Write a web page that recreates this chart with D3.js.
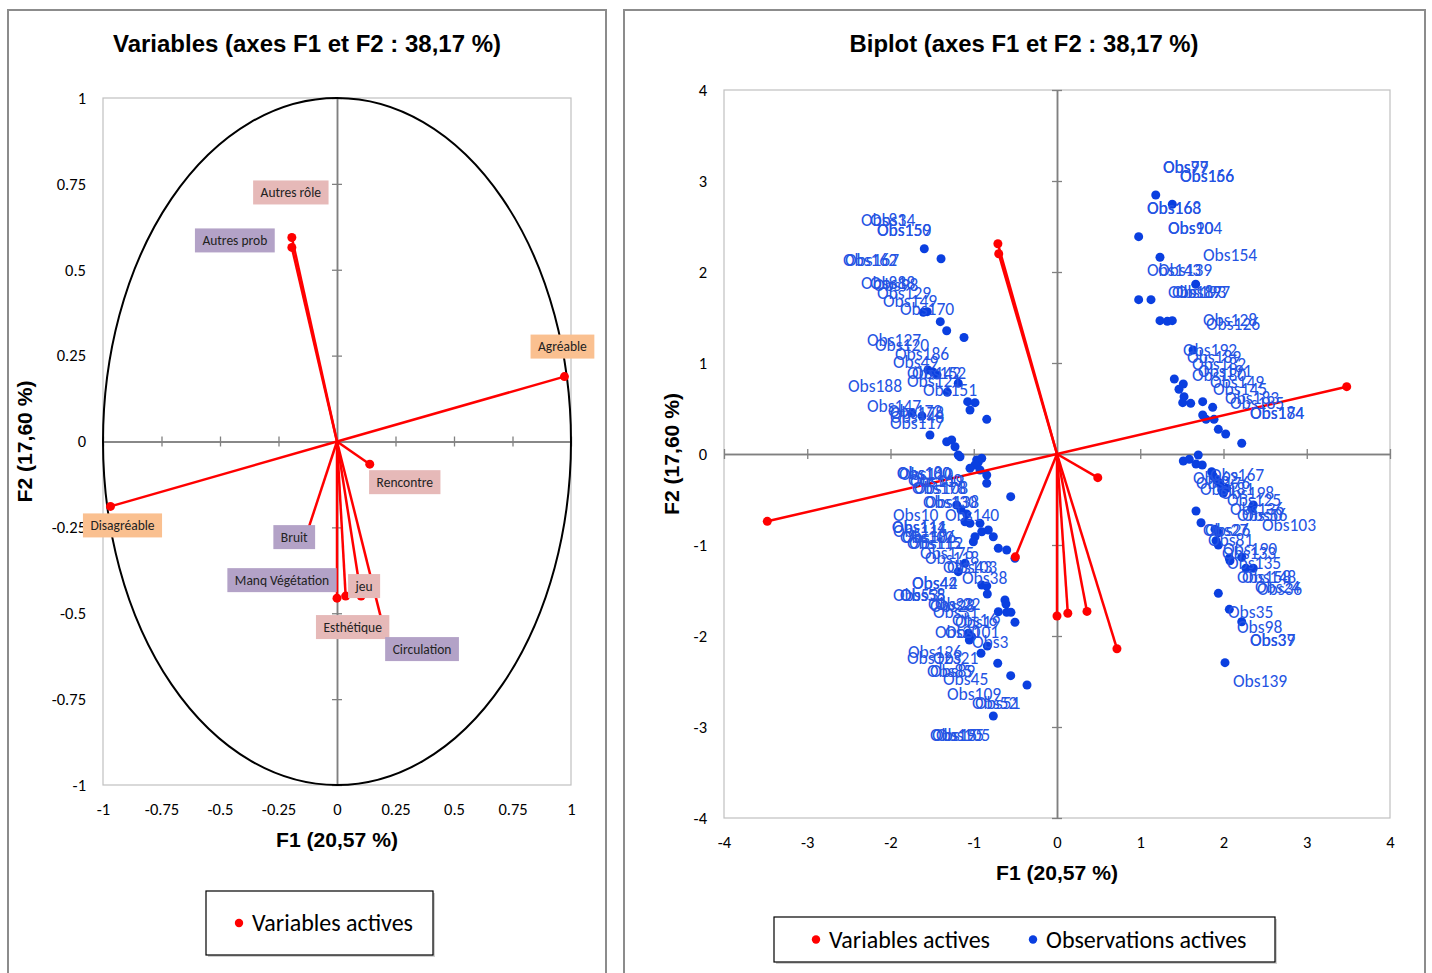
<!DOCTYPE html>
<html><head><meta charset="utf-8">
<script src="https://cdn.jsdelivr.net/npm/d3@7"></script>
<style>body{margin:0;background:#fff} svg{display:block}</style>
</head><body><svg id="c" width="1432" height="973"></svg>
<script>
// ---------- DATA ----------
const varNames = ["Agréable","Disagréable","Autres rôle","Autres prob","Rencontre","Bruit","Manq Végétation","Esthétique","jeu","Circulation"];
const varType  = ["valence","valence","usage","probleme","usage","probleme","probleme","usage","usage","probleme"];
// correlation circle coordinates
const varF1 = [0.972,-0.968,-0.193,-0.193,0.140,-0.140,0.000,0.037,0.103,0.201];
const varF2 = [0.189,-0.189,0.594,0.565,-0.066,-0.290,-0.456,-0.450,-0.450,-0.549];
// biplot coordinates of the variables
const biF1 = [3.48,-3.48,-0.71,-0.70,0.49,-0.50,0.00,0.13,0.36,0.72];
const biF2 = [0.74,-0.74,2.31,2.20,-0.26,-1.13,-1.78,-1.75,-1.73,-2.14];

const obsF1 = [
 1.186,1.385,0.981,1.237,1.666,0.981,1.129,1.237,1.325,1.385,
 1.634,1.409,1.517,1.465,1.526,1.510,1.606,1.750,1.870,1.750,1.790,1.886,1.938,2.026,2.219,
 1.517,1.589,1.697,1.670,1.745,1.858,1.877,1.918,1.958,1.978,1.998,2.038,2.358,2.339,1.670,1.730,1.898,1.938,1.910,1.938,2.070,2.078,2.219,2.270,2.358,1.938,2.070,2.219,2.018,
 -1.594,-1.393,-1.606,-1.558,-1.402,-1.325,-1.117,-1.550,-1.489,-1.441,-1.186,-1.318,-1.073,-0.985,-1.045,-0.844,-1.742,-1.622,-1.526,-1.325,-1.265,-1.225,-1.186,-1.165,-0.965,-0.904,-0.945,-0.985,-1.045,-0.925,-0.844,-0.844,-0.556,-1.205,-1.153,-1.085,-1.105,-1.045,-0.925,-0.904,-0.825,-0.985,-0.765,-1.005,-0.705,-0.604,-0.505,-1.105,-1.186,-0.904,-0.844,-0.837,-0.625,-0.613,-0.705,-0.604,-0.553,-0.505,-1.065,-1.025,-1.053,-0.837,-0.913,-0.712,-0.556,-0.360,-0.765];
const obsF2 = [
 2.846,2.744,2.388,2.162,1.865,1.696,1.696,1.465,1.458,1.465,
 1.143,0.824,0.769,0.711,0.630,0.564,0.557,0.575,0.513,0.429,0.381,0.381,0.271,0.220,0.118,
 -0.077,-0.058,-0.011,-0.110,-0.121,-0.195,-0.242,-0.286,-0.322,-0.396,-0.432,-0.377,-0.560,-0.597,-0.626,-0.755,-0.827,-0.865,-0.953,-1.000,-1.146,-1.173,-1.135,-1.256,-1.256,-1.531,-1.707,-1.843,-2.293,
 2.256,2.146,1.557,1.564,1.454,1.355,1.280,0.923,0.901,0.868,0.777,0.678,0.575,0.564,0.484,0.381,0.451,0.418,0.209,0.135,0.154,0.080,-0.011,-0.030,-0.066,-0.047,-0.088,-0.121,-0.157,-0.176,-0.231,-0.322,-0.469,-0.560,-0.615,-0.659,-0.744,-0.762,-0.762,-0.854,-0.835,-0.909,-0.909,-0.964,-1.036,-1.055,-1.146,-1.201,-1.293,-1.440,-1.451,-1.538,-1.604,-1.648,-1.733,-1.740,-1.740,-1.849,-1.970,-2.008,-2.044,-2.110,-2.190,-2.300,-2.436,-2.538,-2.879];

// observation labels (text start, in F1/F2 units)
const obsLabelText = ["Obs77","Obs99","Obs156","Obs166","Obs168","Obs163","Obs90","Obs104","Obs154","Obs143","Obs139","Obs187","Obs193","Obs197","Obs128","Obs126",
 "Obs192","Obs189","Obs182","Obs191","Obs180","Obs149","Obs145","Obs183","Obs185","Obs174","Obs184",
 "Obs62","Obs167","Obs176","Obs181","Obs198","Obs125","Obs136","Obs50","Obs56","Obs103","Obs27","Obs26","Obs81","Obs190","Obs133","Obs135","Obs158","Obs148","Obs24","Obs36","Obs35","Obs98","Obs37","Obs39","Obs139",
 "Obs81","Obs34","Obs159","Obs150","Obs162","Obs167","Obs88","Obs18","Obs98","Obs129","Obs149","Obs170","Obs127","Obs120","Obs186","Obs49","Obs142","Obs152","Obs121","Obs188","Obs151","Obs147","Obs172","Obs178","Obs148","Obs117",
 "Obs180","Obs100","Obs110","Obs160","Obs119","Obs178","Obs108","Obs130","Obs138","Obs10","Obs140","Obs111","Obs114","Obs116","Obs102","Obs106","Obs115","Obs112","Obs175","Obs118","Obs103","Obs43","Obs38","Obs44","Obs42","Obs53","Obs58","Obs55",
 "Obs23","Obs22","Obs28","Obs31","Obs16","Obs19","Obs20","Obs101","Obs3","Obs126","Obs123","Obs21","Obs85","Obs89","Obs45","Obs109","Obs52","Obs51","Obs195","Obs15","Obs105"];
const obsLabelF1 = [1.273,1.273,1.477,1.477,1.081,1.081,1.333,1.333,1.754,1.081,1.213,1.333,1.381,1.429,1.754,1.790,
 1.514,1.562,1.622,1.694,1.622,1.838,1.874,2.018,2.078,2.318,2.318,
 1.634,1.838,1.670,1.718,1.958,2.042,2.078,2.162,2.222,2.462,1.754,1.778,1.814,1.994,1.982,2.042,2.162,2.222,2.378,2.402,2.054,2.162,2.318,2.318,2.114,
 -2.354,-2.246,-2.162,-2.162,-2.571,-2.547,-2.354,-2.246,-2.210,-2.162,-2.090,-1.886,-2.282,-2.186,-1.946,-1.970,-1.802,-1.742,-1.802,-2.511,-1.610,-2.282,-2.030,-2.006,-2.006,-2.006,
 -1.922,-1.922,-1.898,-1.790,-1.766,-1.742,-1.718,-1.610,-1.586,-1.970,-1.345,-1.982,-1.982,-1.970,-1.886,-1.862,-1.802,-1.778,-1.646,-1.586,-1.369,-1.321,-1.141,-1.742,-1.742,-1.970,-1.886,-1.886,
 -1.550,-1.465,-1.526,-1.489,-1.261,-1.225,-1.465,-1.345,-1.021,-1.790,-1.802,-1.489,-1.562,-1.526,-1.369,-1.321,-1.021,-0.985,-1.526,-1.502,-1.453];
const obsLabelF2 = [3.154,3.154,3.055,3.055,2.703,2.703,2.484,2.484,2.187,2.022,2.022,1.780,1.780,1.780,1.473,1.429,
 1.143,1.066,0.989,0.912,0.868,0.791,0.714,0.615,0.560,0.451,0.451,
 -0.264,-0.231,-0.319,-0.385,-0.429,-0.505,-0.604,-0.670,-0.670,-0.780,-0.835,-0.835,-0.945,-1.044,-1.088,-1.198,-1.352,-1.352,-1.462,-1.484,-1.736,-1.901,-2.044,-2.044,-2.495,
 2.571,2.571,2.462,2.462,2.132,2.132,1.879,1.879,1.857,1.769,1.681,1.593,1.253,1.198,1.099,1.011,0.890,0.890,0.802,0.747,0.703,0.527,0.473,0.451,0.407,0.341,
 -0.209,-0.209,-0.220,-0.286,-0.297,-0.374,-0.374,-0.527,-0.527,-0.670,-0.670,-0.802,-0.802,-0.846,-0.912,-0.912,-0.978,-0.978,-1.088,-1.143,-1.242,-1.242,-1.363,-1.418,-1.418,-1.549,-1.549,-1.549,
 -1.648,-1.648,-1.670,-1.736,-1.824,-1.846,-1.956,-1.956,-2.066,-2.176,-2.242,-2.242,-2.385,-2.385,-2.473,-2.637,-2.736,-2.736,-3.088,-3.088,-3.088];

const leftTicks = [-1,-0.75,-0.5,-0.25,0,0.25,0.5,0.75,1];
const rightTicks = [-4,-3,-2,-1,0,1,2,3,4];

// ---------- LAYOUT / STYLE ----------
const svg = d3.select("#c");
const NUM_FONT = "Carlito, Calibri, Lato, sans-serif";
const TITLE_FONT = "'Liberation Sans Narrow', 'Liberation Sans', Arial, sans-serif";
const RED = "#ff0000", BLUE = "#0a3fe0", LBLUE = "#2453e3";
const typeFill = d3.scaleOrdinal().domain(["valence","usage","probleme"]).range(["#fac090","#e6b9b8","#b3a2c7"]);
const varLabelOffset = [[-2,-30],[12,19],[-1,-45],[-57,-7],[35,18],[-10,-4],[-55,-18],[7,31],[3,-10],[38,19]];

// panel frames
svg.append("rect").attr("x",8).attr("y",10).attr("width",598).attr("height",1000)
  .attr("fill","none").attr("stroke","#8c8c8c").attr("stroke-width",2);
svg.append("rect").attr("x",624).attr("y",10).attr("width",801).attr("height",1000)
  .attr("fill","none").attr("stroke","#8c8c8c").attr("stroke-width",2);

function boldText(x, y, size, len, txt, rot) {
  const t = svg.append("text").attr("text-anchor","middle")
    .attr("font-family",TITLE_FONT).attr("font-weight","bold").attr("font-size",size)
    .attr("textLength",len).attr("lengthAdjust","spacingAndGlyphs").text(txt);
  if (rot) t.attr("transform",`translate(${x},${y}) rotate(-90)`);
  else t.attr("x",x).attr("y",y);
  return t;
}

function drawFrame(x, y, ticks, o) {
  const g = svg.append("g");
  const [x0,x1] = x.range(), [y0,y1] = y.range();
  g.append("rect").attr("x",x0).attr("y",y1).attr("width",x1-x0).attr("height",y0-y1)
    .attr("fill","none").attr("stroke","#c0c0c0").attr("stroke-width",1.2);
  const fmt = d => String(d);
  const ax = g.append("g").attr("transform",`translate(0,${o.xLabY})`)
    .call(d3.axisBottom(x).tickValues(ticks).tickSize(0).tickFormat(fmt));
  ax.select(".domain").remove();
  ax.selectAll("text").attr("font-family",NUM_FONT).attr("font-size",16.5).attr("fill","#000").attr("dy","0");
  const ay = g.append("g").attr("transform",`translate(${o.yLabX},0)`)
    .call(d3.axisLeft(y).tickValues(ticks).tickSize(0).tickPadding(0).tickFormat(fmt));
  ay.select(".domain").remove();
  ay.selectAll("text").attr("font-family",NUM_FONT).attr("font-size",16.5).attr("fill","#000");
  const inner = ticks.filter(d => d !== 0);
  [d3.axisBottom, d3.axisTop].forEach(f => {
    const a = g.append("g").attr("transform",`translate(0,${y(0)})`)
      .call(f(x).tickValues(inner).tickSize(5).tickSizeOuter(0).tickFormat(""));
    a.selectAll("line").attr("stroke","#808080").attr("stroke-width",1.3);
    a.select(".domain").attr("stroke","#808080").attr("stroke-width",1.5);
  });
  [d3.axisLeft, d3.axisRight].forEach(f => {
    const a = g.append("g").attr("transform",`translate(${x(0)},0)`)
      .call(f(y).tickValues(inner).tickSize(5).tickSizeOuter(0).tickFormat(""));
    a.selectAll("line").attr("stroke","#808080").attr("stroke-width",1.3);
    a.select(".domain").attr("stroke","#808080").attr("stroke-width",1.5);
  });
  boldText(o.titleX, 52, 23, o.titleLen, o.title);
  boldText(x(0), o.f1Y, 20, 122, "F1 (20,57 %)");
  boldText(o.f2X, y(0), 20, 122, "F2 (17,60 %)", true);
  return g;
}

function legend(x, y, w, h, items) {
  const g = svg.append("g");
  g.append("rect").attr("x",x+2).attr("y",y+2).attr("width",w).attr("height",h).attr("fill","#d0d0d0");
  g.append("rect").attr("x",x).attr("y",y).attr("width",w).attr("height",h).attr("fill","#fff").attr("stroke","#000").attr("stroke-width",1.2);
  items.forEach(it => {
    g.append("circle").attr("cx",it.cx).attr("cy",y+h/2).attr("r",4.2).attr("fill",it.color);
    g.append("text").attr("x",it.cx+13).attr("y",y+h/2+8).attr("font-family",NUM_FONT).attr("font-size",24).text(it.text);
  });
}

// ---------- LEFT : correlation circle ----------
const xL = d3.scaleLinear([-1,1],[103,571]);
const yL = d3.scaleLinear([-1,1],[785,98]);
const gL = drawFrame(xL, yL, leftTicks, {xLabY:812, yLabX:86, titleX:307, titleLen:388, title:"Variables (axes F1 et F2 : 38,17 %)", f1Y:847, f2X:32});
gL.append("ellipse").attr("cx",xL(0)).attr("cy",yL(0)).attr("rx",xL(1)-xL(0)).attr("ry",yL(0)-yL(1))
  .attr("fill","none").attr("stroke","#000").attr("stroke-width",2);
const vIdx = d3.range(varNames.length);
gL.selectAll("line.v").data(vIdx).join("line").attr("class","v")
  .attr("x1",xL(0)).attr("y1",yL(0)).attr("x2",i=>xL(varF1[i])).attr("y2",i=>yL(varF2[i]))
  .attr("stroke",RED).attr("stroke-width",2.5);
gL.selectAll("circle.v").data(vIdx).join("circle").attr("class","v")
  .attr("cx",i=>xL(varF1[i])).attr("cy",i=>yL(varF2[i])).attr("r",4.5).attr("fill",RED);
vIdx.forEach(i => {
  const cx = xL(varF1[i]) + varLabelOffset[i][0], cy = yL(varF2[i]) + varLabelOffset[i][1];
  const lg = gL.append("g");
  const r = lg.append("rect").attr("fill",typeFill(varType[i]));
  const t = lg.append("text").attr("x",cx).attr("y",cy+4.5).attr("text-anchor","middle")
    .attr("font-family",NUM_FONT).attr("font-size",13.5).attr("fill","#222").text(varNames[i]);
  const w = t.node().getComputedTextLength() + 15;
  r.attr("x",cx-w/2).attr("y",cy-12).attr("width",w).attr("height",24);
});
legend(206, 891, 227, 64, [{cx:239, color:RED, text:"Variables actives"}]);

// ---------- RIGHT : biplot ----------
const xR = d3.scaleLinear([-4,4],[724,1390]);
const yR = d3.scaleLinear([-4,4],[818,90]);
const gR = drawFrame(xR, yR, rightTicks, {xLabY:845, yLabX:707, titleX:1024, titleLen:349, title:"Biplot (axes F1 et F2 : 38,17 %)", f1Y:880, f2X:679});
const oIdx = d3.range(obsF1.length);
gR.selectAll("circle.o").data(oIdx).join("circle").attr("class","o")
  .attr("cx",i=>xR(obsF1[i])).attr("cy",i=>yR(obsF2[i])).attr("r",4.5).attr("fill",BLUE);
gR.selectAll("line.v").data(vIdx).join("line").attr("class","v")
  .attr("x1",xR(0)).attr("y1",yR(0)).attr("x2",i=>xR(biF1[i])).attr("y2",i=>yR(biF2[i]))
  .attr("stroke",RED).attr("stroke-width",2.5);
gR.selectAll("circle.v").data(vIdx).join("circle").attr("class","v")
  .attr("cx",i=>xR(biF1[i])).attr("cy",i=>yR(biF2[i])).attr("r",4.5).attr("fill",RED);
gR.selectAll("text.ol").data(d3.range(obsLabelText.length)).join("text").attr("class","ol")
  .attr("x",i=>xR(obsLabelF1[i])).attr("y",i=>yR(obsLabelF2[i])+6)
  .attr("font-family",NUM_FONT).attr("font-size",17.5).attr("fill",LBLUE).text(i=>obsLabelText[i]);
legend(774, 917, 501, 45, [{cx:816, color:RED, text:"Variables actives"},{cx:1033, color:BLUE, text:"Observations actives"}]);
</script></body></html>
